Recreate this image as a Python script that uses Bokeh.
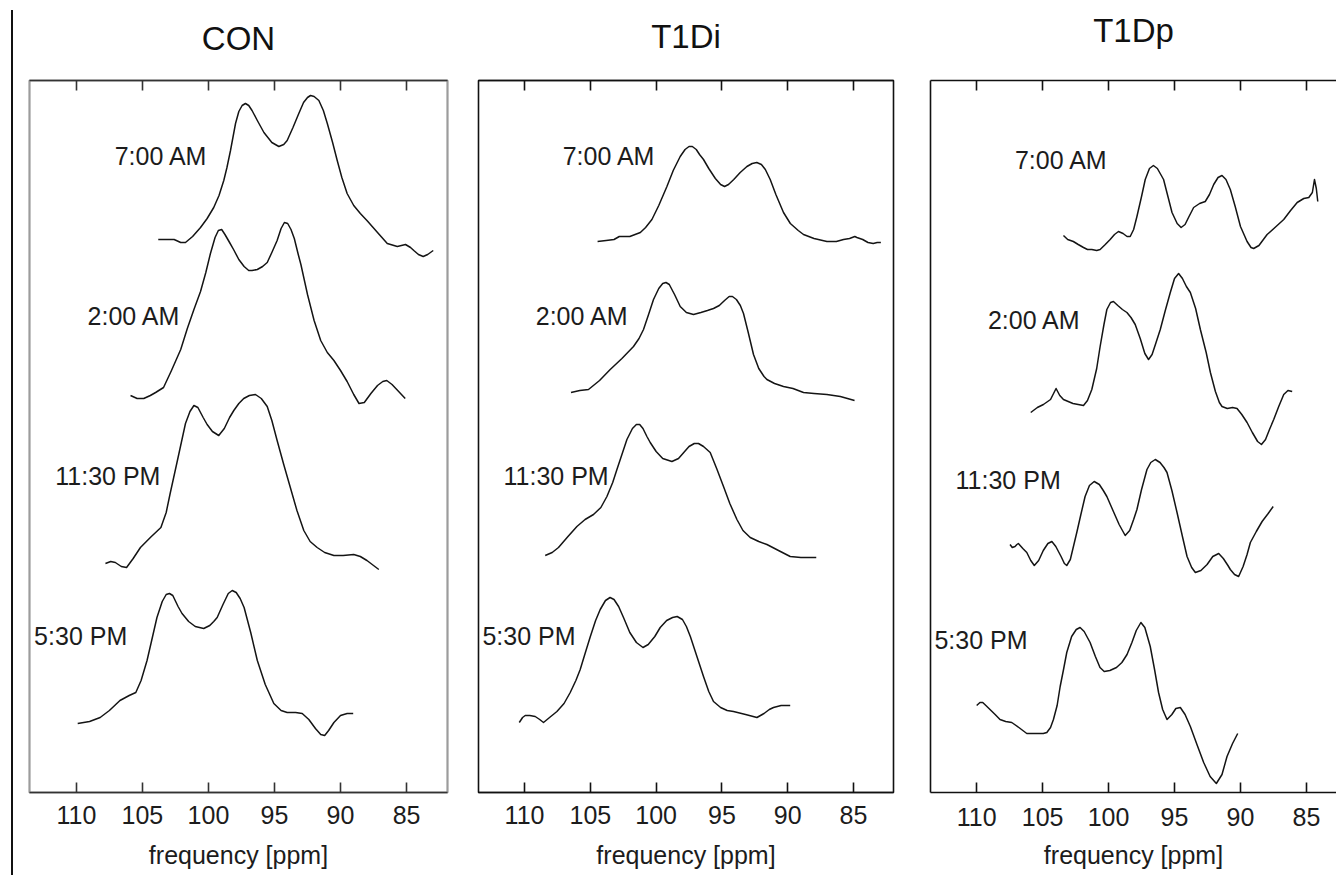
from bokeh.plotting import figure
from bokeh.models import Range1d, LinearAxis, FixedTicker, ColumnDataSource, Div
from bokeh.layouts import row
from bokeh.embed import file_html
from bokeh.resources import INLINE
from bokeh.core.properties import value

# ---------------- data ----------------
PANELS = ["CON", "T1Di", "T1Dp"]
TIMES = ["5:30 PM", "11:30 PM", "2:00 AM", "7:00 AM"]
OFFSETS = [60, 220, 380, 540]          # vertical stacking of the spectra
TICKS = [85, 90, 95, 100, 105, 110]
LABEL_PPM = [113.2, 111.6, 109.15, 107.1]
LABEL_LIFT = 97

# CON
con_530_ppm = [109.9, 109.0, 108.2, 107.5, 106.7, 106.0, 105.5, 105.1, 104.65, 104.3, 103.9, 103.5, 103.2, 102.95, 102.7, 102.3, 102.0, 101.5, 101.0, 100.36, 99.9, 99.6, 99.34, 98.9, 98.5, 98.2, 97.9, 97.6, 97.3, 96.8, 96.3, 95.7, 95.05, 94.5, 94.04, 93.4, 92.9, 92.4, 91.9, 91.5, 91.2, 90.9, 90.5, 90.0, 89.5, 89.04]
con_530_int = [9, 11, 15, 22, 32, 37, 40, 52, 72, 92, 115, 131, 138, 139, 137, 126, 119, 111, 106, 104, 107, 111, 115, 128, 139, 142, 140, 134, 125, 100, 72, 48, 29, 22, 20, 20, 19, 13, 4, -2, -3, 2, 10, 17, 19, 19]
con_1130_ppm = [107.8, 107.4, 107.05, 106.6, 106.2, 105.7, 105.15, 104.4, 103.6, 103.2, 102.9, 102.4, 101.74, 101.4, 101.1, 100.8, 100.4, 100.1, 99.7, 99.22, 98.8, 98.4, 98.08, 97.7, 97.33, 96.9, 96.44, 96.0, 95.55, 95.2, 94.8, 94.3, 93.8, 93.3, 92.78, 92.3, 91.77, 91.2, 90.5, 89.8, 89.0, 88.5, 88.0, 87.5, 87.1]
con_1130_int = [9, 11, 10, 6, 5, 14, 25, 35, 45, 60, 79, 109, 149, 161, 167, 165, 155, 148, 141, 137, 144, 155, 162, 169, 174, 177, 178, 174, 166, 152, 132, 108, 85, 62, 42, 31, 25, 20, 17, 17, 18, 16, 12, 7, 3]
con_200_ppm = [105.9, 105.4, 104.9, 104.4, 104.0, 103.4, 102.8, 102.1, 101.6, 101.1, 100.6, 100.2, 99.85, 99.5, 99.25, 99.0, 98.75, 98.4, 98.1, 97.7, 97.3, 96.95, 96.7, 96.3, 95.9, 95.55, 95.2, 94.8, 94.5, 94.25, 94.0, 93.75, 93.5, 93.2, 93.0, 92.7, 92.5, 92.0, 91.5, 91.0, 90.5, 90.0, 89.5, 89.0, 88.6, 88.2, 87.7, 87.2, 86.8, 86.5, 86.1, 85.6, 85.1]
con_200_int = [17, 14, 14, 17, 20, 25, 42, 63, 84, 103, 121, 140, 159, 175, 182, 183, 178, 170, 163, 153, 146, 142, 142, 143, 146, 150, 160, 172, 184, 190, 189, 183, 174, 158, 148, 130, 118, 92, 72, 60, 52, 42, 31, 18, 9, 10, 19, 27, 31, 32, 28, 21, 14]
con_700_ppm = [103.8, 102.6, 102.1, 101.74, 101.2, 100.6, 100.1, 99.6, 99.2, 98.84, 98.6, 98.33, 97.95, 97.7, 97.45, 97.2, 96.95, 96.7, 96.3, 95.8, 95.2, 94.67, 94.3, 94.04, 93.6, 93.16, 92.8, 92.5, 92.27, 92.0, 91.64, 91.3, 91.0, 90.6, 90.25, 89.9, 89.5, 89.0, 88.5, 88.0, 87.2, 86.46, 85.7, 85.08, 84.7, 84.45, 84.1, 83.74, 83.4, 82.98]
con_700_int = [13, 13, 10, 10, 16, 25, 34, 45, 57, 72, 85, 102, 129, 141, 147, 149, 147, 142, 132, 120, 110, 106, 108, 112, 125, 139, 150, 155, 157, 156, 152, 142, 129, 110, 92, 75, 59, 47, 39, 32, 20, 9, 6, 8, 5, 2, -2, -4, -2, 2]

# T1Di
t1di_530_ppm = [110.4, 110.15, 109.95, 109.6, 109.19, 108.85, 108.56, 108.1, 107.54, 107.0, 106.53, 106.1, 105.77, 105.4, 105.0, 104.6, 104.25, 103.85, 103.5, 103.2, 102.85, 102.48, 102.0, 101.5, 101.0, 100.6, 100.1, 99.69, 99.2, 98.75, 98.4, 98.0, 97.7, 97.4, 96.9, 96.4, 96.0, 95.64, 95.1, 94.6, 94.12, 93.2, 92.34, 91.8, 91.4, 91.08, 90.5, 89.81]
t1di_530_int = [10, 15, 17, 17, 16, 13, 10, 15, 21, 29, 40, 52, 63, 79, 96, 112, 123, 132, 135, 133, 126, 115, 100, 90, 85, 88, 96, 105, 112, 115, 116, 113, 106, 96, 76, 56, 41, 31, 25, 22, 21, 18, 15, 19, 23, 25, 27, 27]
t1di_1130_ppm = [108.43, 107.9, 107.42, 106.7, 106.02, 105.4, 104.76, 104.2, 103.74, 103.3, 102.98, 102.6, 102.22, 101.8, 101.5, 101.25, 101.0, 100.7, 100.45, 100.0, 99.5, 98.8, 98.3, 97.9, 97.5, 97.1, 96.78, 96.4, 95.89, 95.4, 94.88, 94.4, 93.86, 93.4, 92.85, 92.2, 91.58, 90.7, 89.81, 89.0, 87.83]
t1di_1130_int = [17, 20, 25, 36, 46, 53, 58, 65, 76, 90, 103, 118, 133, 144, 148, 148, 144, 136, 130, 121, 114, 111, 114, 120, 126, 129, 129, 126, 120, 104, 86, 69, 53, 42, 35, 31, 28, 22, 16, 15, 15]
t1di_200_ppm = [106.47, 105.8, 105.14, 104.3, 103.49, 102.6, 101.72, 101.3, 100.96, 100.6, 100.2, 99.8, 99.5, 99.25, 99.0, 98.6, 98.17, 97.7, 97.16, 96.6, 96.1, 95.64, 95.2, 94.8, 94.45, 94.2, 93.9, 93.6, 93.36, 93.0, 92.6, 92.2, 91.8, 91.58, 91.0, 90.32, 89.6, 88.8, 88.0, 87.02, 86.0, 84.92]
t1di_200_int = [20, 22, 23, 32, 43, 54, 66, 74, 83, 97, 113, 124, 129, 130, 128, 118, 106, 100, 98, 100, 102, 104, 107, 112, 116, 116, 113, 107, 99, 80, 58, 44, 36, 33, 29, 26, 24, 20, 19, 18, 16, 12]
t1di_700_ppm = [104.45, 103.8, 103.2, 102.8, 102.48, 102.0, 101.6, 101.2, 100.8, 100.32, 99.8, 99.18, 98.7, 98.17, 97.8, 97.5, 97.25, 96.95, 96.7, 96.4, 96.0, 95.5, 95.1, 94.8, 94.5, 94.1, 93.61, 93.1, 92.7, 92.35, 92.0, 91.7, 91.33, 90.9, 90.32, 89.8, 89.2, 88.8, 88.0, 87.02, 86.3, 85.76, 85.3, 84.9, 84.74, 84.3, 83.9, 83.5, 83.2, 82.92]
t1di_700_int = [11, 12, 13, 16, 16, 16, 18, 20, 25, 33, 47, 66, 82, 96, 103, 106, 106, 103, 98, 93, 84, 74, 68, 66, 68, 73, 80, 86, 89, 90, 88, 83, 73, 58, 40, 29, 22, 18, 14, 11, 11, 13, 14, 16, 15, 13, 10, 9, 10, 10]

# T1Dp
t1dp_530_ppm = [110.0, 109.75, 109.54, 109.3, 108.99, 108.6, 108.23, 107.8, 107.34, 106.8, 106.2, 105.5, 104.95, 104.68, 104.4, 104.18, 103.9, 103.67, 103.4, 103.17, 102.8, 102.45, 102.16, 101.85, 101.4, 101.0, 100.65, 100.33, 99.9, 99.4, 98.99, 98.6, 98.23, 97.9, 97.55, 97.25, 96.84, 96.5, 96.21, 95.9, 95.57, 95.2, 94.9, 94.56, 94.2, 93.8, 93.3, 92.79, 92.3, 91.83, 91.4, 91.02, 90.6, 90.21]
t1dp_530_int = [31, 34, 34, 31, 27, 22, 17, 15, 14, 9, 3, 3, 3, 4, 9, 17, 31, 50, 68, 84, 100, 107, 109, 105, 94, 80, 69, 65, 66, 69, 74, 82, 94, 106, 114, 109, 90, 66, 44, 27, 17, 22, 28, 29, 22, 10, -8, -26, -40, -47, -38, -20, -7, 3]
t1dp_1130_ppm = [107.47, 107.3, 107.09, 106.95, 106.84, 106.5, 106.2, 105.9, 105.63, 105.3, 104.95, 104.6, 104.3, 104.0, 103.6, 103.35, 103.17, 102.9, 102.7, 102.41, 102.1, 101.78, 101.45, 101.09, 100.7, 100.4, 100.13, 99.7, 99.2, 98.74, 98.4, 98.1, 97.85, 97.5, 97.09, 96.8, 96.46, 96.1, 95.8, 95.57, 95.2, 94.81, 94.4, 94.05, 93.7, 93.42, 93.0, 92.53, 92.1, 91.65, 91.3, 90.95, 90.77, 90.45, 90.14, 89.8, 89.5, 89.25, 88.8, 88.36, 87.9, 87.52]
t1dp_1130_int = [32, 29, 30, 32, 33, 28, 24, 16, 11, 16, 26, 33, 35, 30, 20, 13, 11, 17, 28, 44, 62, 80, 91, 95, 92, 86, 80, 67, 52, 41, 46, 57, 67, 87, 107, 114, 117, 114, 109, 104, 86, 64, 40, 20, 9, 4, 6, 12, 20, 23, 18, 11, 7, 2, 0, 10, 22, 34, 45, 55, 63, 70]
t1dp_200_ppm = [105.9, 105.4, 104.94, 104.4, 103.98, 103.7, 103.42, 102.7, 101.9, 101.6, 101.27, 100.9, 100.64, 100.35, 100.13, 99.85, 99.63, 99.3, 98.95, 98.61, 98.3, 97.98, 97.6, 97.25, 96.97, 96.7, 96.4, 96.08, 95.7, 95.32, 95.0, 94.69, 94.4, 94.1, 93.8, 93.4, 93.04, 92.6, 92.28, 91.9, 91.6, 91.4, 91.0, 90.6, 90.26, 89.9, 89.5, 89.1, 88.7, 88.41, 88.1, 87.8, 87.48, 87.1, 86.72, 86.4, 86.08]
t1dp_200_int = [4, 9, 12, 17, 28, 21, 17, 13, 11, 16, 27, 48, 70, 92, 107, 114, 115, 111, 107, 104, 99, 92, 78, 63, 57, 62, 74, 87, 106, 124, 138, 143, 138, 130, 124, 108, 87, 64, 44, 25, 14, 10, 8, 9, 8, 2, -6, -16, -25, -28, -23, -13, -3, 10, 22, 26, 25]
t1dp_700_ppm = [103.42, 103.1, 102.67, 102.3, 101.9, 101.6, 101.27, 100.9, 100.64, 100.25, 99.88, 99.55, 99.25, 98.9, 98.6, 98.36, 98.1, 97.85, 97.5, 97.22, 96.9, 96.6, 96.3, 96.0, 95.83, 95.5, 95.19, 94.8, 94.5, 94.2, 93.9, 93.55, 93.1, 92.67, 92.35, 92.03, 91.7, 91.4, 91.1, 90.77, 90.4, 90.0, 89.5, 89.2, 89.0, 88.6, 87.98, 87.3, 86.72, 86.2, 85.7, 85.2, 84.82, 84.55, 84.39, 84.25, 84.14]
t1dp_700_int = [21, 17, 15, 12, 9, 7, 7, 6, 7, 12, 17, 22, 25, 23, 20, 20, 27, 40, 60, 77, 88, 91, 88, 81, 77, 60, 44, 33, 29, 32, 40, 49, 53, 55, 62, 72, 79, 81, 77, 67, 50, 30, 15, 9, 8, 11, 22, 30, 37, 46, 54, 58, 59, 64, 77, 68, 55]

SPECTRA = {
    "CON": [(con_530_ppm, con_530_int), (con_1130_ppm, con_1130_int),
            (con_200_ppm, con_200_int), (con_700_ppm, con_700_int)],
    "T1Di": [(t1di_530_ppm, t1di_530_int), (t1di_1130_ppm, t1di_1130_int),
             (t1di_200_ppm, t1di_200_int), (t1di_700_ppm, t1di_700_int)],
    "T1Dp": [(t1dp_530_ppm, t1dp_530_int), (t1dp_1130_ppm, t1dp_1130_int),
             (t1dp_200_ppm, t1dp_200_int), (t1dp_700_ppm, t1dp_700_int)],
}

# ---------------- layout / style ----------------
FONT = "Liberation Sans"
TXT = "#1c1c1c"
H = 875

cfg = {
    "CON":  dict(width=446, mbl=13, mbr=15, xr=(113.55, 81.9), yr=(0, 712),
                 frame="#9c9c9c", frame_w=2.2, axis="#333333", title_gap=24,
                 ls=13, als=14),
    "T1Di": dict(width=449, mbl=16, mbr=18, xr=(113.5, 81.96), yr=(0, 712),
                 frame="#111111", frame_w=1.6, axis="#111111", title_gap=26,
                 ls=13, als=14),
    "T1Dp": dict(width=425, mbl=19, mbr=0, xr=(113.5, 82.72), yr=(4, 716),
                 frame=None, frame_w=1.6, axis="#111111", title_gap=32,
                 ls=15, als=12),
}


def style_axis(ax, c):
    ax.ticker = FixedTicker(ticks=TICKS)
    ax.minor_tick_line_color = None
    ax.major_tick_in = 10
    ax.major_tick_out = 0
    ax.major_tick_line_color = c["axis"]
    ax.major_tick_line_width = 1.6
    ax.axis_line_color = c["axis"]
    ax.axis_line_width = 1.6
    ax.major_label_text_font = FONT
    ax.axis_label_text_font = FONT
    ax.axis_label_text_font_style = "normal"


figs = []

# vertical rule on the left edge of the page
rule = Div(text='<div style="width:2px;height:865px;margin-left:11px;margin-top:10px;background:#111111;"></div>',
           width=16, height=H, margin=(0, 0, 0, 0))
figs.append(rule)

for name in PANELS:
    c = cfg[name]
    p = figure(width=c["width"], height=H, output_backend="svg", toolbar_location=None,
               x_range=Range1d(*c["xr"]), y_range=Range1d(*c["yr"]),
               min_border_left=c["mbl"], min_border_right=c["mbr"],
               min_border_top=80, min_border_bottom=83)
    p.grid.visible = False
    p.yaxis.visible = False
    p.background_fill_color = "white"
    p.border_fill_color = "white"
    if c["frame"] is None:
        p.outline_line_color = None
        left = LinearAxis(ticker=FixedTicker(ticks=[]), major_label_text_color=None,
                          major_label_text_font_size="1px",
                          major_tick_in=0, major_tick_out=0, minor_tick_out=0,
                          minor_tick_line_color=None,
                          axis_line_color=c["axis"], axis_line_width=1.6,
                          major_label_standoff=0)
        p.add_layout(left, "left")
    else:
        p.outline_line_color = c["frame"]
        p.outline_line_width = c["frame_w"]
        p.outline_line_alpha = 1.0

    # bottom axis: tick labels + "frequency [ppm]"
    bx = p.xaxis[0]
    style_axis(bx, c)
    bx.major_label_text_color = TXT
    bx.major_label_text_font_size = "25px"
    bx.major_label_standoff = c["ls"]
    bx.axis_label = "frequency [ppm]"
    bx.axis_label_text_font_size = "25px"
    bx.axis_label_text_color = TXT
    bx.axis_label_standoff = c["als"]

    # top axis: inward ticks only, panel name set above it
    top = LinearAxis()
    style_axis(top, c)
    top.minor_tick_out = 0
    top.major_label_text_color = None
    top.major_label_text_font_size = "1px"
    top.major_label_standoff = 0
    top.axis_label = name
    top.axis_label_text_font_size = "33px"
    top.axis_label_text_color = "#111111"
    top.axis_label_standoff = c["title_gap"]
    p.add_layout(top, "above")

    for (ppm, inten), off in zip(SPECTRA[name], OFFSETS):
        src = ColumnDataSource(dict(x=ppm, y=[v + off for v in inten]))
        p.line("x", "y", source=src, line_color="#141414", line_width=1.5,
               line_join="round")

    lab = ColumnDataSource(dict(x=LABEL_PPM, y=[o + LABEL_LIFT for o in OFFSETS], t=TIMES))
    p.text("x", "y", text="t", source=lab, text_font=value(FONT), text_font_size="25px",
           text_color=TXT, text_align="left", text_baseline="middle")
    figs.append(p)

layout = row(*figs, spacing=0)
open("out.html", "w").write(file_html(layout, INLINE))
